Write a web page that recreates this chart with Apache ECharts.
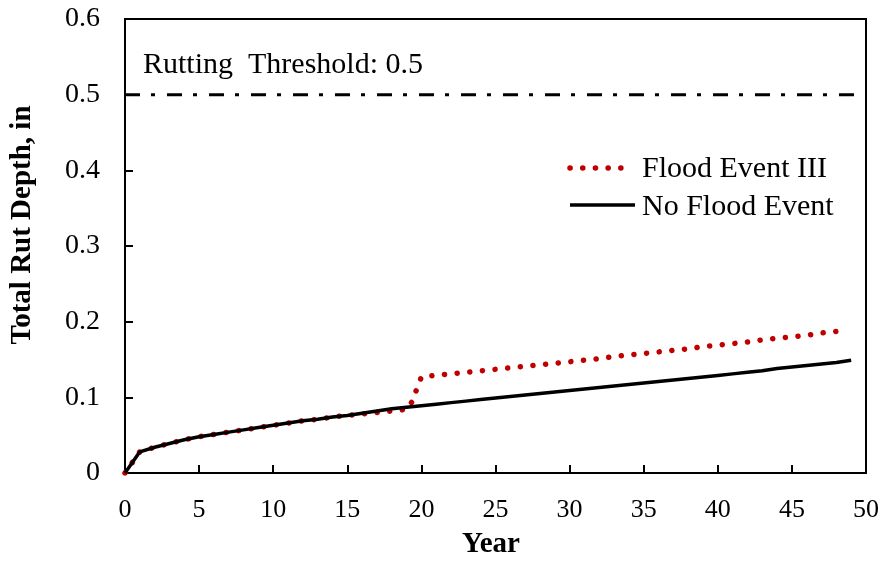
<!DOCTYPE html>
<html>
<head>
<meta charset="utf-8">
<script src="https://cdn.jsdelivr.net/npm/echarts@6/dist/echarts.min.js"></script>
<style>html,body{margin:0;padding:0;background:#fff}#c{width:883px;height:561px}</style>
</head>
<body>
<div id="c"></div>
<script>
const xTicks = [0, 5, 10, 15, 20, 25, 30, 35, 40, 45, 50];
const yTicks = [0, 0.1, 0.2, 0.3, 0.4, 0.5, 0.6];
const threshold = 0.5;
const thresholdLabel = 'Rutting  Threshold: 0.5';
const xTitle = 'Year';
const yTitle = 'Total Rut Depth, in';

const noFloodYears = [0,1,2,3,4,5,6,7,8,9,10,11,12,13,14,15,16,17,18,19,20,21,22,23,24,25,26,27,28,29,30,31,32,33,34,35,36,37,38,39,40,41,42,43,44,45,46,47,48,49];
const noFloodDepth = [0,0.028,0.034,0.039,0.044,0.048,0.051,0.054,0.057,0.060,0.063,0.066,0.069,0.071,0.074,0.076,0.079,0.082,0.085,0.087,0.089,0.091,0.093,0.095,0.097,0.099,0.101,0.103,0.105,0.107,0.109,0.111,0.113,0.115,0.117,0.119,0.121,0.123,0.125,0.127,0.129,0.131,0.133,0.135,0.138,0.140,0.142,0.144,0.146,0.149];

const floodYears = [0,1,2,3,4,5,6,7,8,9,10,11,12,13,14,15,16,17,18,19,19.4,19.7,20,21,22,23,24,25,26,27,28,29,30,31,32,33,34,35,36,37,38,39,40,41,42,43,44,45,46,47,48];
const floodDepth = [0,0.028,0.034,0.039,0.044,0.048,0.051,0.054,0.057,0.060,0.063,0.066,0.069,0.071,0.074,0.076,0.078,0.080,0.082,0.084,0.095,0.112,0.127,0.129,0.131,0.133,0.135,0.137,0.139,0.141,0.143,0.145,0.147,0.149,0.151,0.154,0.156,0.158,0.160,0.162,0.164,0.167,0.169,0.171,0.173,0.176,0.178,0.180,0.182,0.185,0.187];

const seriesNames = ['Flood Event III', 'No Flood Event'];

const font = 'Liberation Serif, Times New Roman, serif';
const chart = echarts.init(document.getElementById('c'));
chart.setOption({
  animation: false,
  grid: { left: 125, right: 17, top: 19, bottom: 88, show: true, borderColor: '#000', borderWidth: 2 },
  xAxis: {
    type: 'value', min: xTicks[0], max: xTicks[xTicks.length - 1], interval: 5,
    axisLine: { lineStyle: { color: '#000', width: 2 } },
    axisTick: { inside: true, length: 8, lineStyle: { color: '#000', width: 2 } },
    axisLabel: { fontFamily: font, fontSize: 26, color: '#000', margin: 24 },
    splitLine: { show: false }
  },
  yAxis: {
    type: 'value', min: yTicks[0], max: yTicks[yTicks.length - 1], interval: 0.1,
    axisLine: { show: true, lineStyle: { color: '#000', width: 2 } },
    axisTick: { show: true, inside: true, length: 8, lineStyle: { color: '#000', width: 2 } },
    axisLabel: { fontFamily: font, fontSize: 28, color: '#000', margin: 25,
      formatter: v => (v === 0 ? '0' : v.toFixed(1)) },
    splitLine: { show: false }
  },
  series: [
    {
      name: seriesNames[0], type: 'line', showSymbol: false, z: 3,
      data: floodYears.map((x, i) => [x, floodDepth[i]]),
      lineStyle: { color: '#c00000', width: 5.5, type: [0.1, 12.6], cap: 'round' }
    },
    {
      name: seriesNames[1], type: 'line', showSymbol: false, z: 4,
      data: noFloodYears.map((x, i) => [x, noFloodDepth[i]]),
      lineStyle: { color: '#000', width: 3.5 }
    },
    {
      name: 'threshold', type: 'line', showSymbol: false, z: 2,
      data: [[xTicks[0], threshold], [xTicks[xTicks.length - 1], threshold]],
      lineStyle: { color: '#000', width: 3, type: [15, 11, 4, 12] }
    }
  ],
  graphic: [
    { type: 'text', x: 143, y: 65, style: { text: thresholdLabel, font: '30px ' + font, fill: '#000', verticalAlign: 'middle' } },
    { type: 'line', shape: { x1: 570, y1: 168, x2: 622, y2: 168 }, style: { stroke: '#c00000', lineWidth: 5.5, lineDash: [0.1, 12.6], lineCap: 'round' } },
    { type: 'text', x: 642, y: 169, style: { text: seriesNames[0], font: '30px ' + font, fill: '#000', verticalAlign: 'middle' } },
    { type: 'line', shape: { x1: 570, y1: 205, x2: 635, y2: 205 }, style: { stroke: '#000', lineWidth: 3.5 } },
    { type: 'text', x: 642, y: 207, style: { text: seriesNames[1], font: '30px ' + font, fill: '#000', verticalAlign: 'middle' } },
    { type: 'text', x: 491, y: 545, style: { text: xTitle, font: 'bold 29px ' + font, fill: '#000', align: 'center', verticalAlign: 'middle' } },
    { type: 'text', x: 23, y: 225, rotation: Math.PI / 2, style: { text: yTitle, font: 'bold 29px ' + font, fill: '#000', align: 'center', verticalAlign: 'middle' } }
  ]
});
</script>
</body>
</html>
